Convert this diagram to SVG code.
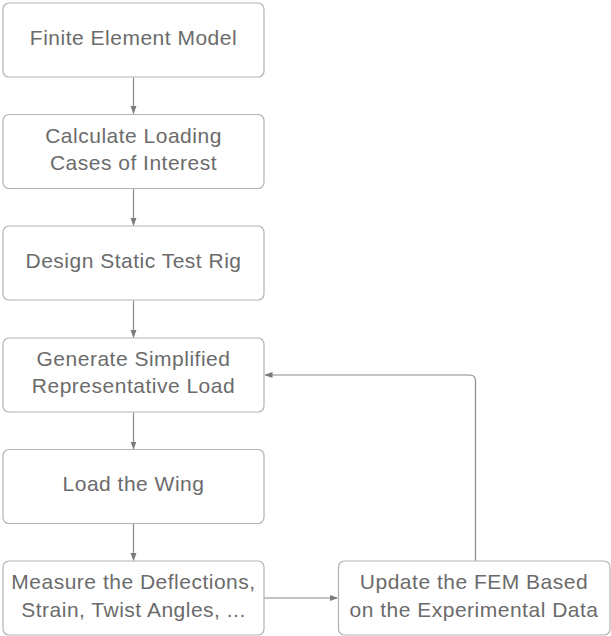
<svg xmlns="http://www.w3.org/2000/svg" width="611" height="636" viewBox="0 0 611 636">
  <style>
    .box { fill: #ffffff; stroke: #b3b3b3; stroke-width: 1.2; }
    .lbl { font-family: "Liberation Sans", Arial, sans-serif; font-size: 21px; letter-spacing: 0.5px; fill: #6b6b6b; text-anchor: middle; }
    .wire { fill: none; stroke: #8a8a8a; stroke-width: 1.2; }
  </style>
  <defs>
    <marker id="arrow" markerWidth="8" markerHeight="8" refX="7.5" refY="4" orient="auto" markerUnits="userSpaceOnUse">
      <path d="M0,1 L8,4 L0,7 Z" fill="#7a7a7a"/>
    </marker>
  </defs>
  <rect width="611" height="636" fill="#ffffff"/>

  <g id="connectors">
    <path class="wire" d="M133.5,77.5 V113.5" marker-end="url(#arrow)"/>
    <path class="wire" d="M133.5,189 V225.5" marker-end="url(#arrow)"/>
    <path class="wire" d="M133.5,300.5 V337.5" marker-end="url(#arrow)"/>
    <path class="wire" d="M133.5,412.5 V449" marker-end="url(#arrow)"/>
    <path class="wire" d="M133.5,524 V560.5" marker-end="url(#arrow)"/>
    <path class="wire" d="M264,598 H337.5" marker-end="url(#arrow)"/>
    <path class="wire" d="M475.5,561 V381 Q475.5,375 469.5,375 H265" marker-end="url(#arrow)"/>
  </g>

  <g id="finite-element-model">
    <rect class="box" x="3" y="3" width="261" height="74" rx="6"/>
    <text class="lbl" x="133.5" y="44.5">Finite Element Model</text>
  </g>
  <g id="calculate-loading">
    <rect class="box" x="3" y="114.5" width="261" height="74" rx="6"/>
    <text class="lbl" x="133.5" y="142.8">Calculate Loading</text>
    <text class="lbl" x="133.5" y="169.8">Cases of Interest</text>
  </g>
  <g id="design-test-rig">
    <rect class="box" x="3" y="226" width="261" height="74" rx="6"/>
    <text class="lbl" x="133.5" y="267.5">Design Static Test Rig</text>
  </g>
  <g id="generate-load">
    <rect class="box" x="3" y="338" width="261" height="74" rx="6"/>
    <text class="lbl" x="133.5" y="366.3">Generate Simplified</text>
    <text class="lbl" x="133.5" y="393.3">Representative Load</text>
  </g>
  <g id="load-wing">
    <rect class="box" x="3" y="449.5" width="261" height="74" rx="6"/>
    <text class="lbl" x="133.5" y="491">Load the Wing</text>
  </g>
  <g id="measure">
    <rect class="box" x="3" y="561" width="261" height="74" rx="6"/>
    <text class="lbl" x="133.5" y="589.3">Measure the Deflections,</text>
    <text class="lbl" x="133.5" y="616.5">Strain, Twist Angles, ...</text>
  </g>
  <g id="update-fem">
    <rect class="box" x="338.5" y="561" width="271.5" height="74" rx="6"/>
    <text class="lbl" x="474" y="589.3">Update the FEM Based</text>
    <text class="lbl" x="474" y="616.5">on the Experimental Data</text>
  </g>
</svg>
